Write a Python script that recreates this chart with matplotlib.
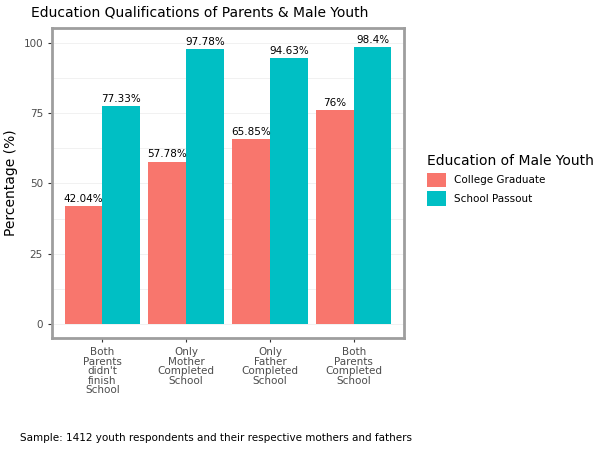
import matplotlib.pyplot as plt
import numpy as np

categories = ["Both\nParents\ndidn't\nfinish\nSchool", "Only\nMother\nCompleted\nSchool",
              "Only\nFather\nCompleted\nSchool", "Both\nParents\nCompleted\nSchool"]
college = [42.04, 57.78, 65.85, 76]
school = [77.33, 97.78, 94.63, 98.4]
college_lbl = ["42.04%", "57.78%", "65.85%", "76%"]
school_lbl = ["77.33%", "97.78%", "94.63%", "98.4%"]

fig = plt.figure(figsize=(6, 4.5), dpi=100)
ax = fig.add_axes([52/600, 1-338/450, 352/600, 310/450])
x = np.arange(1, 5)
w = 0.45
red, teal = "#F8766D", "#00BFC4"
b1 = ax.bar(x - w/2, college, w, color=red, label="College Graduate")
b2 = ax.bar(x + w/2, school, w, color=teal, label="School Passout")
for xi, v, l in zip(x - w/2, college, college_lbl):
    ax.text(xi, v + 0.8, l, ha="center", va="bottom", fontsize=7.5)
for xi, v, l in zip(x + w/2, school, school_lbl):
    ax.text(xi, v + 0.8, l, ha="center", va="bottom", fontsize=7.5)
ax.set_xlim(0.4, 4.6)
ax.set_ylim(-4.9, 105.2)
ax.set_yticks([0, 25, 50, 75, 100])
ax.set_yticks([12.5, 37.5, 62.5, 87.5], minor=True)
ax.set_xticks(x)
ax.set_xticklabels(categories, fontsize=7.5, color="#4D4D4D", linespacing=0.95)
ax.tick_params(axis="y", labelsize=7.5, labelcolor="#4D4D4D", color="#333333", length=3)
ax.tick_params(axis="x", color="#333333", length=3)
ax.tick_params(which="minor", length=0)
ax.grid(True, which="both", axis="y", color="#EBEBEB", lw=0.5)
ax.set_axisbelow(True)
for s in ax.spines.values():
    s.set_color("#9E9E9E"); s.set_linewidth(2)
ax.set_ylabel("Percentage (%)", fontsize=10)
ax.set_title("Education Qualifications of Parents & Male Youth", fontsize=10, loc="left", x=-0.06, pad=8)
leg = fig.legend(handles=[b1, b2], loc="upper left", bbox_to_anchor=(418/600, 1-145/450),
                 frameon=False, fontsize=7.5, title="Education of Male Youth",
                 title_fontsize=10, handlelength=1.8, handleheight=1.8, labelspacing=0.4)
leg._legend_box.align = "left"
fig.text(20/600, 1-438/450, "Sample: 1412 youth respondents and their respective mothers and fathers",
         fontsize=7.5, va="center")
fig.savefig("out.png")
